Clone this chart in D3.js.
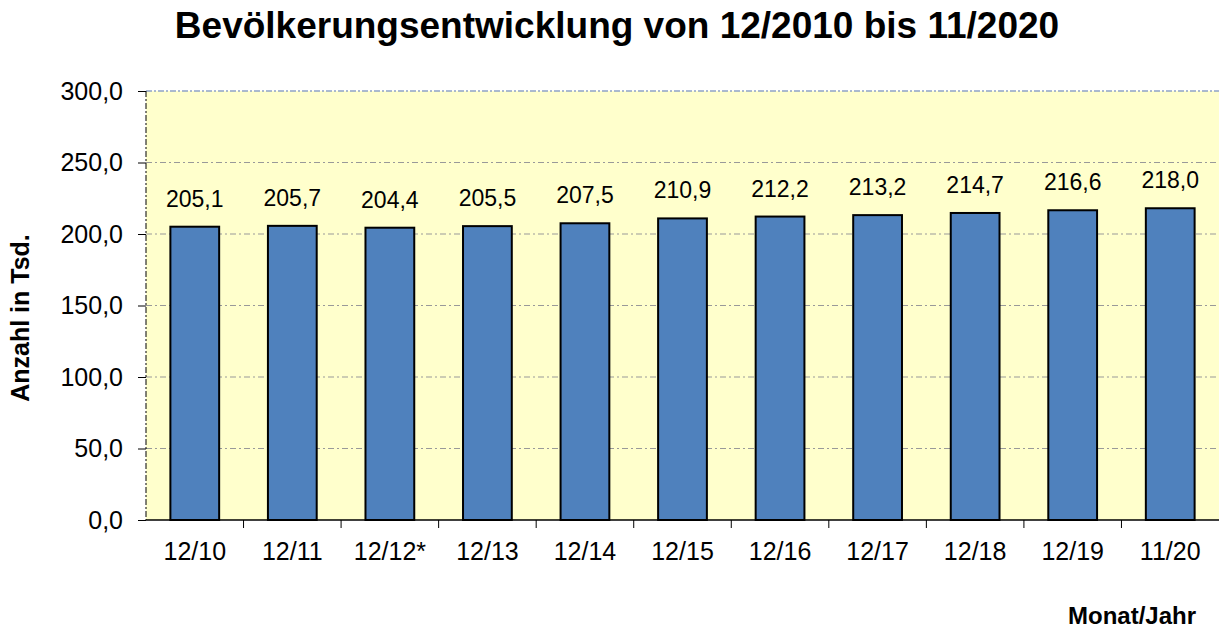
<!DOCTYPE html>
<html>
<head>
<meta charset="utf-8">
<script src="https://cdn.jsdelivr.net/npm/d3@7"></script>
<style>
  body { margin: 0; background: #fff; }
  text { font-family: Arial, "Liberation Sans", sans-serif; }
</style>
</head>
<body>
<svg id="chart" width="1219" height="629"></svg>
<script>
  // data
  var categories = ["12/10","12/11","12/12*","12/13","12/14","12/15","12/16","12/17","12/18","12/19","11/20"];
  var values = [205.1, 205.7, 204.4, 205.5, 207.5, 210.9, 212.2, 213.2, 214.7, 216.6, 218.0];
  var yTicks = [0, 50, 100, 150, 200, 250, 300];

  var svg = d3.select("#chart");
  var plotLeft = 146, plotRight = 1219, plotTop = 91, plotBottom = 520;

  var fmt = function(v){ return d3.format(".1f")(v).replace(".", ","); };

  var x = d3.scaleBand()
    .domain(categories)
    .range([plotLeft, plotRight])
    .paddingInner(0.5)
    .paddingOuter(0.25);

  var y = d3.scaleLinear()
    .domain([0, 300])
    .range([plotBottom, plotTop]);

  // plot background
  svg.append("rect")
    .attr("x", plotLeft).attr("y", plotTop)
    .attr("width", plotRight - plotLeft).attr("height", plotBottom - plotTop)
    .attr("fill", "#ffffcc");

  // grid lines
  svg.append("g").selectAll("line")
    .data(yTicks.filter(function(d){ return d > 0 && d < 300; }))
    .enter().append("line")
    .attr("x1", plotLeft).attr("x2", plotRight)
    .attr("y1", function(d){ return y(d); })
    .attr("y2", function(d){ return y(d); })
    .attr("stroke", "#999")
    .attr("stroke-width", 1)
    .attr("stroke-dasharray", "6,3,2,3");

  // top border
  svg.append("line")
    .attr("x1", plotLeft).attr("x2", plotRight)
    .attr("y1", plotTop).attr("y2", plotTop)
    .attr("stroke", "#8fa3c6")
    .attr("stroke-width", 1.5)
    .attr("stroke-dasharray", "6,2,2,2");

  // bars
  svg.append("g").selectAll("rect")
    .data(values)
    .enter().append("rect")
    .attr("x", function(d, i){ return x(categories[i]); })
    .attr("y", function(d){ return y(d); })
    .attr("width", x.bandwidth())
    .attr("height", function(d){ return y(0) - y(d); })
    .attr("fill", "#4f81bd")
    .attr("stroke", "#000")
    .attr("stroke-width", 2);

  // value labels
  svg.append("g").selectAll("text")
    .data(values)
    .enter().append("text")
    .attr("x", function(d, i){ return x(categories[i]) + x.bandwidth()/2; })
    .attr("y", function(d){ return y(d) - 20; })
    .attr("text-anchor", "middle")
    .attr("font-size", "23px")
    .attr("fill", "#000")
    .text(function(d){ return fmt(d); });

  // y axis
  var yAxis = svg.append("g")
    .attr("transform", "translate(" + plotLeft + ",0)")
    .call(d3.axisLeft(y).tickValues(yTicks).tickSize(8).tickPadding(15).tickFormat(fmt));
  yAxis.select(".domain").attr("stroke", "#000").attr("stroke-width", 1).attr("stroke-dasharray", "6,2,2,2").attr("d", "M0," + plotTop + "V" + plotBottom);
  yAxis.selectAll(".tick line").attr("stroke", "#000");
  yAxis.selectAll(".tick text")
    .attr("font-size", "25px").attr("fill", "#000")
    .attr("font-family", "Arial, 'Liberation Sans', sans-serif");

  // x axis
  var xBoundary = d3.scaleLinear().domain([0, categories.length]).range([plotLeft, plotRight]);
  var xAxis = svg.append("g")
    .attr("transform", "translate(0," + plotBottom + ")")
    .call(d3.axisBottom(x).tickSize(0).tickPadding(22));
  xAxis.select(".domain").attr("stroke", "#000").attr("stroke-width", 1.5).attr("d", "M" + plotLeft + ",0H" + plotRight);
  xAxis.selectAll(".tick text")
    .attr("font-size", "25px").attr("fill", "#000")
    .attr("font-family", "Arial, 'Liberation Sans', sans-serif");
  xAxis.append("g").selectAll("line")
    .data(d3.range(1, categories.length))
    .enter().append("line")
    .attr("x1", function(d){ return xBoundary(d); })
    .attr("x2", function(d){ return xBoundary(d); })
    .attr("y1", 0).attr("y2", 8)
    .attr("stroke", "#000");

  // title
  svg.append("text")
    .attr("x", 617).attr("y", 38)
    .attr("text-anchor", "middle")
    .attr("font-size", "37px")
    .attr("font-weight", "bold")
    .text("Bevölkerungsentwicklung von 12/2010 bis 11/2020");

  // axis titles
  svg.append("text")
    .attr("transform", "translate(29,318) rotate(-90)")
    .attr("text-anchor", "middle")
    .attr("font-size", "25px")
    .attr("font-weight", "bold")
    .text("Anzahl in Tsd.");

  svg.append("text")
    .attr("x", 1196).attr("y", 624)
    .attr("text-anchor", "end")
    .attr("font-size", "24px")
    .attr("font-weight", "bold")
    .text("Monat/Jahr");
</script>
</body>
</html>
